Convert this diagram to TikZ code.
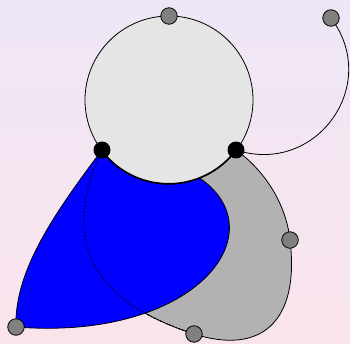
\documentclass[tikz,border=0pt]{standalone}
\definecolor{bgtop}{RGB}{238,230,246}
\definecolor{bgbot}{RGB}{250,228,236}
\tikzset{
  joint/.style={circle,fill=black,inner sep=0pt,minimum size=17pt},
  knob/.style={circle,draw,fill=gray,inner sep=0pt,minimum size=16.5pt,line width=0.8pt},
}
\begin{document}
\begin{tikzpicture}[x=1pt,y=1pt,line width=0.8pt]
  \shade[top color=bgtop,bottom color=bgbot] (0,0) rectangle (350,343);
  \useasboundingbox (0,0) rectangle (350,343);
  % points
  \coordinate (c) at (169,243);
  \coordinate (pL) at (102,193);
  \coordinate (pR) at (236,193);
  \coordinate (pTop) at (169,327);
  \coordinate (pTR) at (331,325);
  \coordinate (pRt) at (290,103);
  \coordinate (pB) at (194,9);
  \coordinate (pBL) at (16,16);
  % gray body
  \filldraw[fill=gray!60] (pL) .. controls (60,103) and (90,43) .. (pB)
    .. controls (260,-12) and (300,20) .. (pRt)
    .. controls (286,140) and (264,173) .. (pR)
    arc[start angle=-36.7,end angle=-143.3,radius=84] -- cycle;
  % blue wing
  \filldraw[fill=blue] (pL) .. controls (57,133) and (14,73) .. (pBL)
    .. controls (245,-2) and (314,178) .. (pL) -- cycle;
  \draw[dash pattern=on 1.2pt off 2.2pt,line width=1.2pt] (pL) .. controls (60,103) and (90,43) .. (pB);
  % head
  \filldraw[fill=gray!20] (c) circle[radius=84];
  \draw[line width=1.6pt] (pR) arc[start angle=-36.7,end angle=-143.3,radius=84];
  \draw (pR) to[out=-18,in=-53,looseness=1.32] (pTR);
  % dots
  \node[joint] (jL) at (pL) {};
  \node[joint] (jR) at (pR) {};
  \node[knob] (kTop) at (pTop) {};
  \node[knob] (kTR) at (pTR) {};
  \node[knob] (kR) at (pRt) {};
  \node[knob] (kB) at (pB) {};
  \node[knob] (kBL) at (pBL) {};
\end{tikzpicture}
\end{document}
